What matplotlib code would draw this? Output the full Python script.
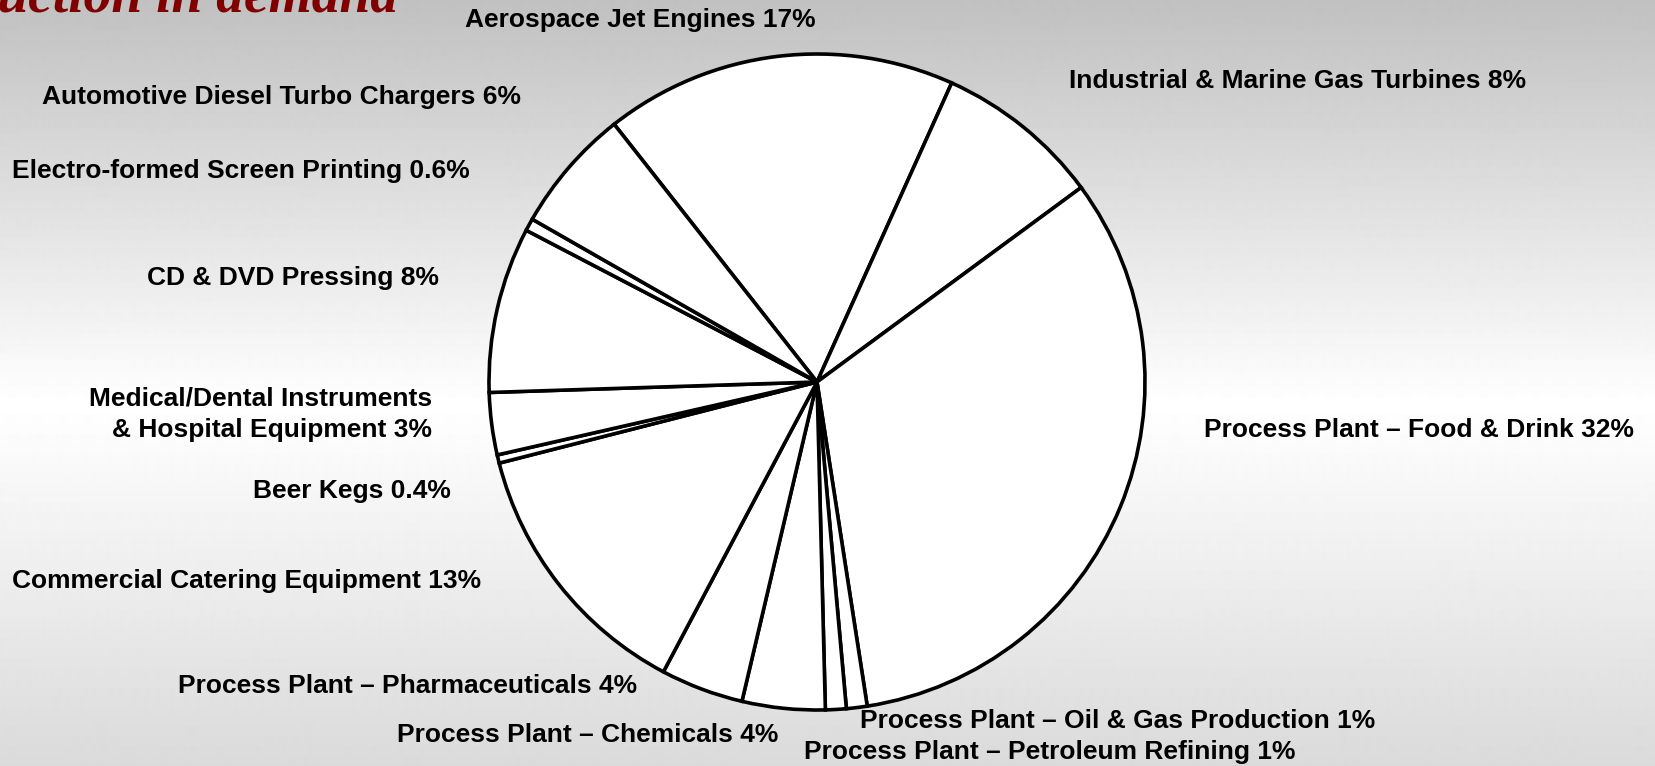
import numpy as np
import matplotlib
matplotlib.use("Agg")
import matplotlib.pyplot as plt

# ---- data ----
categories = [
    "Aerospace Jet Engines",
    "Industrial & Marine Gas Turbines",
    "Process Plant \u2013 Food & Drink",
    "Process Plant \u2013 Oil & Gas Production",
    "Process Plant \u2013 Petroleum Refining",
    "Process Plant \u2013 Chemicals",
    "Process Plant \u2013 Pharmaceuticals",
    "Commercial Catering Equipment",
    "Beer Kegs",
    "Medical/Dental Instruments\n& Hospital Equipment",
    "CD & DVD Pressing",
    "Electro-formed Screen Printing",
    "Automotive Diesel Turbo Chargers",
]
values = [17, 8, 32, 1, 1, 4, 4, 13, 0.4, 3, 8, 0.6, 6]
value_labels = ["17%", "8%", "32%", "1%", "1%", "4%", "4%", "13%", "0.4%", "3%", "8%", "0.6%", "6%"]
title_text = "Reduction in demand"

# ---- layout (pixel coordinates, y measured from top) ----
W, H = 1655, 766
label_pos = [
    (465, 20, "left"),
    (1069, 81, "left"),
    (1204, 430, "left"),
    (860, 721, "left"),
    (804, 752, "left"),
    (397, 735, "left"),
    (178, 686, "left"),
    (12, 581, "left"),
    (253, 491, "left"),
    (432, 414, "right"),
    (147, 278, "left"),
    (12, 171, "left"),
    (42, 97, "left"),
]

fig = plt.figure(figsize=(W / 100, H / 100), dpi=100)

# background gradient
bg = fig.add_axes([0, 0, 1, 1])
ys = np.arange(H)
top, mid, bot = 0.755, 1.0, 0.855
ymid = 405
col = np.where(ys < ymid, top + (mid - top) * ys / ymid,
               mid + (bot - mid) * (ys - ymid) / (H - ymid))
grad = np.repeat(col[:, None], 2, axis=1)
bg.imshow(grad, cmap="gray", vmin=0, vmax=1, aspect="auto",
          extent=[0, W, H, 0], interpolation="bilinear")
bg.set_axis_off()

ax = fig.add_axes([0, 0, 1, 1])
ax.patch.set_alpha(0)

ax.pie(values, center=(817, H - 382), radius=328, startangle=128.2,
       counterclock=False, colors=["white"] * len(values),
       wedgeprops=dict(edgecolor="black", linewidth=2.6, antialiased=True),
       frame=True)
ax.set_xlim(0, W)
ax.set_ylim(0, H)
ax.set_aspect("equal")
ax.set_axis_off()

for cat, vl, (x, y, ha) in zip(categories, value_labels, label_pos):
    ax.text(x, H - y, f"{cat} {vl}", ha=ha, va="center", fontsize=19,
            fontweight="bold", family="Liberation Sans", color="black",
            multialignment="right", linespacing=1.38)

ax.text(398, H - 11, title_text, ha="right", va="baseline", fontsize=40,
        fontweight="bold", fontstyle="italic", family="Liberation Serif",
        color="#800000")

fig.savefig("out.png", dpi=100)
